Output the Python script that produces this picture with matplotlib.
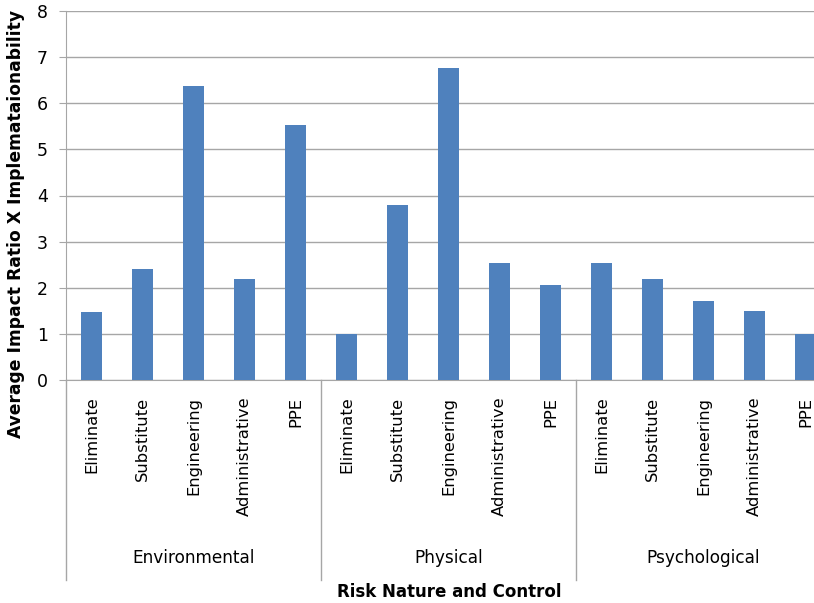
import matplotlib
matplotlib.use("Agg")
import matplotlib.pyplot as plt
import matplotlib.transforms as mtransforms
import numpy as np

groups = ["Environmental", "Physical", "Psychological"]
controls = ["Eliminate", "Substitute", "Engineering", "Administrative", "PPE"]
env_vals = [1.47, 2.40, 6.37, 2.19, 5.52]
phys_vals = [1.00, 3.79, 6.76, 2.54, 2.06]
psych_vals = [2.54, 2.19, 1.72, 1.50, 1.00]
y_ticks = [0, 1, 2, 3, 4, 5, 6, 7, 8]

plt.rcParams['font.family'] = ['DejaVu Sans']

W, H = 814, 603
fig = plt.figure(figsize=(W / 100, H / 100), dpi=100)
left_px, right_px, top_px, bottom_px = 66, 831, 11, 380
ax = fig.add_axes([left_px / W, 1 - bottom_px / H, (right_px - left_px) / W, (bottom_px - top_px) / H])

values = env_vals + phys_vals + psych_vals
labels = controls * len(groups)
x = np.arange(len(values))
ax.bar(x, values, width=0.43, color="#4F81BD", zorder=3)

ax.set_xlim(-0.5, len(values) - 0.5)
ax.set_ylim(0, 8)
ax.set_yticks(y_ticks)
ax.set_yticklabels([str(v) for v in y_ticks], fontsize=12.5)
ax.yaxis.grid(True, color="#A6A6A6", linewidth=1, zorder=0)
ax.set_axisbelow(True)

for s in ["top", "right"]:
    ax.spines[s].set_visible(False)
ax.spines["left"].set_color("#A6A6A6")
ax.spines["bottom"].set_color("#A6A6A6")
ax.tick_params(axis="y", length=5, color="#A6A6A6", pad=8)

ax.set_xticks(x)
ax.set_xticklabels(labels, rotation=90, fontsize=11.8, va="top", ha="center")
ax.tick_params(axis="x", length=0, pad=12)

# group separators and labels
trans = mtransforms.blended_transform_factory(ax.transData, ax.transAxes)
axes_h = bottom_px - top_px
sep_bottom = -(580 - bottom_px) / axes_h
n = len(controls)
for i in range(len(groups) + 1):
    xs = i * n - 0.5
    ax.plot([xs, xs], [0, sep_bottom], transform=trans, color="#A6A6A6",
            linewidth=1, clip_on=False)
for i, g in enumerate(groups):
    ax.text(i * n + (n - 1) / 2, -(558 - bottom_px) / axes_h, g, transform=trans,
            ha="center", va="center", fontsize=12.2)

fig.text(449 / W, 1 - 592 / H, "Risk Nature and Control", ha="center", va="center",
         fontsize=12, fontweight="bold")
fig.text(16 / W, 1 - 224 / H, "Average Impact Ratio X Implemataionability", ha="center",
         va="center", rotation=90, fontsize=12.3, fontweight="bold")

fig.savefig("out.png", dpi=100)
